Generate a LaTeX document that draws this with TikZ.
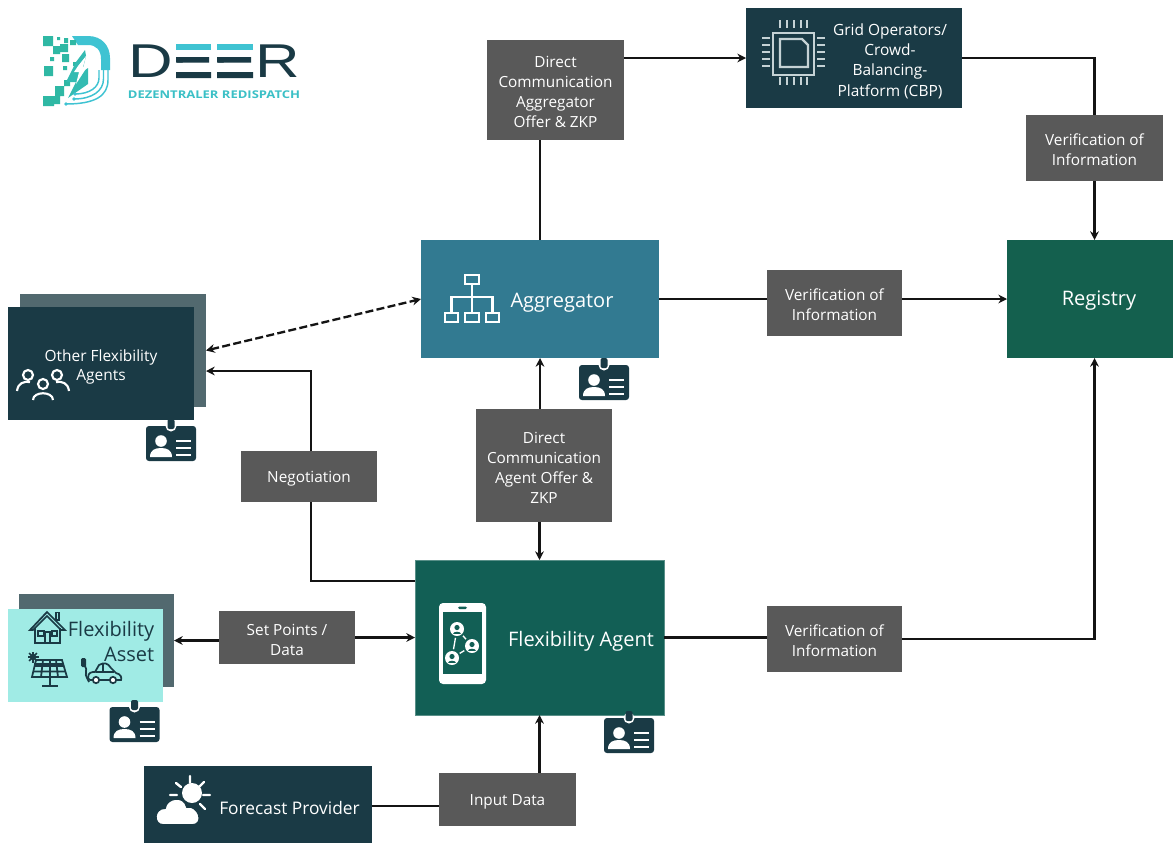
\documentclass[tikz,border=0pt]{standalone}
\usepackage{fontspec}
\setmainfont{Open Sans}
\newfontfamily\logofont{Liberation Sans}
\usetikzlibrary{arrows.meta,calc}
\definecolor{navy}{HTML}{1A3A45}
\definecolor{slatec}{HTML}{52696F}
\definecolor{greyc}{HTML}{595959}
\definecolor{tealg}{HTML}{125F55}
\definecolor{regg}{HTML}{14604E}
\definecolor{aggb}{HTML}{327A91}
\definecolor{aqua}{HTML}{A0EBE5}
\definecolor{linec}{HTML}{141414}
\definecolor{cyanl}{HTML}{3FC3D2}
\definecolor{tealp}{HTML}{2FB8A4}
\definecolor{chipc}{HTML}{C5D2D5}
\tikzset{
 x=0.75pt,y=-0.75pt,
 sz/.style 2 args={minimum width=#1*0.75pt,minimum height=#2*0.75pt,inner sep=0pt,outer sep=0pt},
 blockn/.style={draw=none,align=center,text=white},
 greybox/.style={blockn,fill=greyc},
 greytext/.style={text=white,align=center,inner sep=0pt,font=\fontsize{11.5}{15}\selectfont},
 labeln/.style={text=white,align=center,inner sep=0pt},
 conn/.style={draw=linec,line width=1.75pt},
 arr/.style={conn,-{Stealth[length=6.5pt,width=6.5pt]}},
 icon/.style={draw=white,line width=1.6pt},
 badge/.pic={
  \fill[navy,rounded corners=2.2pt] (0,0) rectangle (50,35);
  \fill[white] (25,0) circle (5.5);
  \fill[navy,rounded corners=1.5pt] (21.5,-7) rectangle (28.5,3);
  \fill[white] (15,15) circle (5.8);
  \fill[white] (4,31) .. controls (4,24) and (9,22) .. (15,22) .. controls (21,22) and (26,24) .. (26,31) -- cycle;
  \draw[white,line width=1.8pt] (30,15) -- (45,15) (30,22) -- (45,22) (30,29) -- (45,29);
 }
}
\newcommand{\gbox}[6]{%
 \node[greybox,sz={#3}{#4}] (#1) at (#5) {};
 \node[greytext] (#1t) at ([yshift=-1.5pt]#1.center) {#6};
}
\begin{document}
\begin{tikzpicture}
\useasboundingbox (0,0) rectangle (1173,843);
\fill[white] (0,0) rectangle (1173,843);

% logo
\begin{scope}
 \fill[cyanl] (72,36) -- (88,36) .. controls (102,36) and (110,46) .. (110,58) -- (110,70) -- (101,70) -- (101,59) .. controls (101,50) and (96,45) .. (88,45) -- (78,45) -- cycle;
 \draw[cyanl,line width=1.1pt] (108,70) -- (108,80) .. controls (108,96) and (95,104) .. (66,104);
 \draw[cyanl,line width=1.1pt] (103.5,70) -- (103.5,79) .. controls (103.5,91) and (92,99) .. (74,99);
 \draw[cyanl,line width=1.1pt] (99,70) -- (99,78) .. controls (99,87) and (90,94) .. (75,94);
 \fill[tealp] (43,36) rectangle (53,46) (57,37) rectangle (60,40) (64,38) rectangle (68,43) (70,40) rectangle (76,45)
   (53,46) rectangle (60,54) (60,44) rectangle (68,52) (62,54) rectangle (69,62) (50,57) rectangle (54,61)
   (44,66) rectangle (53,76) (63,66) rectangle (67,70) (55,86) rectangle (64,96) (43,96) rectangle (54,106) (54,96) rectangle (60,104)
   (64,80) rectangle (70,86) (73,62) rectangle (76,66);
 \fill[tealp!70!cyanl] (76,62) -- (85,50) -- (86,56) -- (82,72) -- (88,68) -- (88,84) -- (68,98) -- (76,82) -- (66,82) -- cycle;
 \fill[white] (78,66) -- (86,56) -- (83,67) -- (87,67) -- (76,84) -- (79,72) -- (74,72) -- cycle;
 \fill[cyanl] (75,94) circle (1.8) (74,99) circle (1.8) (66,104) circle (1.8);
 \node[inner sep=0pt,text=navy,anchor=south,text height=25pt,text depth=0pt] (deer) at (214,78) {\logofont\fontsize{35.6}{36}\selectfont\scalebox{1.3}[1]{DEER}};
 \node[inner sep=0pt,text=cyanl!75!tealp,text height=6pt,text depth=0pt] (redis) at (214,94.5) {\bfseries\fontsize{8}{10}\selectfont\scalebox{1.22}[1]{DEZENTRALER REDISPATCH}};
 % E bars of the word mark
 \foreach \ex/\ew in {176/35,217/36}{
  \fill[white] (\ex-1,50) rectangle (\ex+8,57) (\ex-1,62.5) rectangle (\ex+8,72);
  \fill[cyanl] (\ex,44) rectangle (\ex+\ew,50);
  \fill[navy] (\ex,57) rectangle (\ex+\ew-2,62.5) (\ex,72) rectangle (\ex+\ew,78);
 }
\end{scope}

% boxes
\node[blockn,fill=slatec,sz={186}{113}] (oback) at (113,350.5) {};
\node[blockn,fill=navy,sz={186}{113}] (other) at (101,363.5) {};
\node[blockn,fill=slatec,sz={155}{93}] (aback) at (96.5,640.5) {};
\node[blockn,fill=aqua,sz={155}{93}] (asset) at (85.5,655.5) {};
\node[blockn,fill=aggb,sz={238}{118}] (agg) at (540,299) {};
\node[blockn,fill=tealg,draw=tealg!70!white,line width=.6pt,sz={249}{155}] (fa) at (539.5,637.5) {};
\node[blockn,fill=regg,sz={166}{118}] (reg) at (1090,299) {};
\node[blockn,fill=navy,sz={216}{100}] (grid) at (854,58) {};
\node[blockn,fill=navy,sz={228}{77}] (fp) at (258,804.5) {};
\gbox{dca}{}{137}{100}{555.5,90}{Direct\\Communication\\Aggregator\\Offer \& ZKP}
\gbox{vt}{}{137}{66}{1094.5,148}{Verification of\\Information}
\gbox{vm}{}{135}{66}{834.5,303}{Verification of\\Information}
\gbox{da}{}{136}{113}{544,465.5}{Direct\\Communication\\Agent Offer \&\\ZKP}
\gbox{neg}{}{136}{51}{309,476.5}{Negotiation}
\gbox{sp}{}{136}{53}{287,637.5}{Set Points /\\Data}
\gbox{vl}{}{135}{66}{834.5,639}{Verification of\\Information}
\gbox{ib}{}{137}{53}{507.5,799.5}{Input Data}

% text labels
\node[labeln,font=\fontsize{15}{18}\selectfont] (regt) at (1099,301) {Registry};
\node[labeln,font=\fontsize{11.6}{15.3}\selectfont] (gridt) at (890,61) {Grid Operators/\\Crowd-\\Balancing-\\Platform (CBP)};
\node[labeln,font=\fontsize{15}{18}\selectfont] (aggt) at (562,303) {Aggregator};
\node[labeln,font=\fontsize{15}{18}\selectfont] (fat) at (581,641) {Flexibility Agent};
\node[labeln,font=\fontsize{11.6}{14.5}\selectfont] (othert) at (101,367) {Other Flexibility\\Agents};
\node[labeln,font=\fontsize{13}{16}\selectfont] (fpt) at (289.5,807.5) {Forecast Provider};
\node[labeln,text=navy,align=right,anchor=east,font=\fontsize{15}{18.5}\selectfont] (assett) at (154.5,641.5) {Flexibility\\Asset};

% connectors
\draw[conn] (agg.north) -- (agg.north |- dca.south);
\draw[arr] (dca.east |- grid.west) -- (grid.west);
\draw[conn] (grid.east) -- (vt.north |- grid.east) -- (vt.north);
\draw[arr] (vt.south) -- (vt.south |- reg.north);
\draw[conn] (agg.east) -- (agg.east -| vm.west);
\draw[arr] (vm.east |- reg.west) -- (reg.west);
\draw[conn] (fa.east) -- (fa.east -| vl.west);
\draw[arr] (vl.east) -| (vt.south |- reg.south);
\draw[arr,{Stealth[length=6.5pt,width=6.5pt]}-{Stealth[length=6.5pt,width=6.5pt]},dash pattern=on 6pt off 2.5pt] (oback.east) -- (agg.west);
\coordinate (negfa) at (415,581);
\coordinate (negoth) at (206,371);
\draw[conn] (negfa) -| (neg.south -| 311,0);
\draw[arr] (311,451) |- (negoth);
\draw[arr] (agg.south |- da.north) -- (agg.south);
\draw[arr] (fa.north |- da.south) -- (fa.north);
\draw[arr] (sp.west |- aback.east) -- (aback.east);
\draw[arr] (sp.east) -- (fa.west);
\coordinate (fpout) at (372,806);
\draw[conn] (fpout) -- (fpout -| ib.west);
\draw[arr] (fa.south |- ib.north) -- (fa.south);

% badges
\pic at (579,365) {badge};
\pic at (146,426) {badge};
\pic at (604,718) {badge};
\pic at (109.5,707) {badge};

% aggregator icon
\begin{scope}[icon]
 \draw (465,275) rectangle (479,284);
 \draw (445,313) rectangle (458,322) (465,313) rectangle (479,322) (486,313) rectangle (499,322);
 \draw (472,284) -- (472,313) (451.5,313) -- (451.5,297) -- (492.5,297) -- (492.5,313);
\end{scope}

% phone icon
\fill[white,rounded corners=3pt] (439,603) rectangle (486,684);
\fill[tealg] (443,612) rectangle (482,674);
\fill[tealg,rounded corners=1pt] (458,606.5) rectangle (467,609);
\draw[white,line width=1pt] (457,629) -- (472,646) -- (452,658) -- cycle;
\foreach \px/\py in {457/629,472/646,452/658}{
 \fill[tealg] (\px,\py) circle (9);
 \fill[white] (\px,\py) circle (7);
 \fill[tealg] (\px,\py-1.5) circle (2.6);
 \fill[tealg] (\px-4,\py+4.5) .. controls (\px-4,\py+1.5) and (\px+4,\py+1.5) .. (\px+4,\py+4.5) -- cycle;
}

% chip icon
\begin{scope}[draw=chipc]
 \draw[chipc,line width=1.7pt] (773,33) rectangle (814,75);
 \draw[chipc,line width=1.7pt] (780,39) -- (802,39) -- (808,45) -- (808,67) -- (780,67) -- cycle;
 \foreach \q in {780,787,794,801,807}{
  \draw[chipc,line width=1.4pt] (\q,20) -- (\q,28) (\q,77) -- (\q,85);
 }
 \foreach \q in {38,45,52,59,66}{
  \draw[chipc,line width=1.4pt] (762,\q) -- (770,\q) (817,\q) -- (825,\q);
 }
\end{scope}

% forecast icon
\fill[white] (192,793) circle (10);
\draw[white,line width=1.8pt,line cap=round]
 (190,776) -- (190,783) (176,783) -- (181,787) (204,782) -- (199,787)
 (170,795) -- (177,795) (203,795) -- (210,795) (200,804) -- (205,809);
\fill[white,draw=navy,line width=1.4pt] (163,825) .. controls (153,825) and (153,808) .. (165,808)
 .. controls (166,798) and (184,794) .. (187,807) .. controls (198,804) and (206,825) .. (192,825) -- cycle;

% people icon
\begin{scope}[icon,line width=1.6pt]
 \draw (28,375) circle (5) (57,375) circle (5) (43,384) circle (5);
 \draw (17,391) .. controls (18,383) and (24,381) .. (30,382);
 \draw (69,391) .. controls (68,383) and (62,381) .. (56,382);
 \draw (33,400) .. controls (33,391) and (53,391) .. (53,400);
\end{scope}

% asset icons
\begin{scope}[draw=navy,line width=1.3pt]
 \draw (30,630) -- (47,612) -- (65,630) -- (61,630) -- (47,616) -- (33,630) -- cycle;
 \draw (56,612.5) rectangle (59,620);
 \draw (35,628) -- (35,643) -- (60,643) -- (60,628);
 \draw (38,631) rectangle (44,636) (52,631) rectangle (57,636) (45,643) -- (45,632) -- (50,632) -- (50,643);
 \draw[line width=1.8pt] (34,664) -- (64,664);
 \draw (36,660) -- (32,677) -- (67,677) -- (62,660) -- cycle;
 \draw (34.5,666) -- (64,666) (33,671.5) -- (65.5,671.5) (43,660) -- (41,677) (50,660) -- (50,677) (56,660) -- (58,677);
 \draw (50,677) -- (50,685) (42,686) -- (58,686);
 \fill[navy] (33,657) circle (3.2);
 \foreach \an in {0,45,...,315}{\draw[line width=1.1pt] (33,657) -- ++(\an:5.5);}
 \draw (89,682) -- (87,678) .. controls (84,674) and (88,670) .. (85,666);
 \fill[navy,rounded corners=1pt] (81,658) rectangle (86,667);
 \draw (88,678) .. controls (88,672) and (92,672) .. (95,672) -- (99,665) .. controls (104,662) and (108,663) .. (111,668) -- (116,673) .. controls (121,674) and (122,678) .. (121,680) -- (90,680) -- cycle;
 \draw (96,672) -- (114,672) (103,664) -- (103,672);
 \fill[white] (96,680) circle (4) (113,680) circle (4);
 \draw (96,680) circle (3.2) (113,680) circle (3.2);
\end{scope}
\end{tikzpicture}
\end{document}
